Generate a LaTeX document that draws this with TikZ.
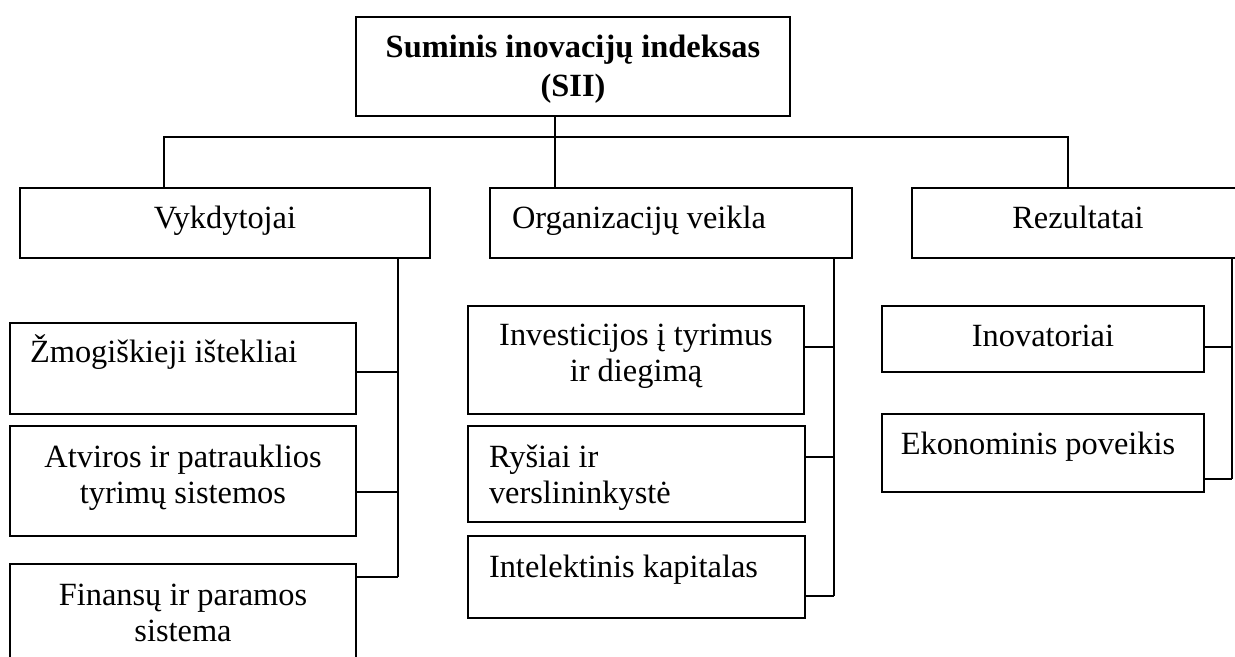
\documentclass[tikz,border=0pt]{standalone}
\usepackage{fontspec}
\setmainfont{Liberation Serif}
\newcommand{\fs}{\fontsize{16.2pt}{18pt}\selectfont}
\begin{document}
\begin{tikzpicture}[x=0.5pt,y=-0.5pt,
  box/.style={draw, line width=1pt, inner sep=0pt, outer sep=0pt, anchor=north west},
  lbl/.style={inner sep=0pt, outer sep=0pt, font=\fs},
  link/.style={line width=0.8pt}]
\useasboundingbox (0,0) rectangle (1235,657);
\clip (0,0) rectangle (1235,657);
% level 0
\node[box, minimum width=217pt, minimum height=49.5pt] (sii) at (356,17) {};
\node[lbl, anchor=base, align=center, font={\fontsize{16.2pt}{19.5pt}\selectfont\bfseries}] (siit) at (573,97) {Suminis inovacijų indeksas\\(SII)};
% level 1
\node[box, minimum width=205pt, minimum height=35pt] (vyk) at (20,188) {};
\node[box, minimum width=181pt, minimum height=35pt] (org) at (490,188) {};
\node[box, minimum width=166.5pt, minimum height=35pt] (rez) at (912,188) {};
\node[lbl, anchor=base] (vykt) at (225,229) {Vykdytojai};
\node[lbl, anchor=base west] (orgt) at (512,229) {Organizacijų veikla};
\node[lbl, anchor=base] (rezt) at (1078,229) {Rezultatai};
% level 2, left
\node[box, minimum width=173pt, minimum height=45.5pt] (zmo) at (10,323) {};
\node[box, minimum width=173pt, minimum height=55pt] (atv) at (10,426) {};
\node[box, minimum width=173pt, minimum height=53pt] (fin) at (10,564) {};
\node[lbl, anchor=base west] (zmot) at (30,363) {Žmogiškieji ištekliai};
\node[lbl, anchor=base, align=center] (atvt) at (183,503) {Atviros ir patrauklios\\tyrimų sistemos};
\node[lbl, anchor=base, align=center] (fint) at (183,641) {Finansų ir paramos\\sistema};
% level 2, middle
\node[box, minimum width=168pt, minimum height=54pt] (inv) at (468,306) {};
\node[box, minimum width=168.5pt, minimum height=48pt] (rys) at (468,426) {};
\node[box, minimum width=168.5pt, minimum height=41pt] (int) at (468,536) {};
\node[lbl, anchor=base, align=center] (invt) at (636,381) {Investicijos į tyrimus\\ir diegimą};
\node[lbl, anchor=base west, align=left] (ryst) at (489,503) {Ryšiai ir\\verslininkystė};
\node[lbl, anchor=base west] (intt) at (489,577) {Intelektinis kapitalas};
% level 2, right
\node[box, minimum width=161pt, minimum height=33pt] (ino) at (882,306) {};
\node[box, minimum width=161pt, minimum height=39pt] (eko) at (882,414) {};
\node[lbl, anchor=base] (inot) at (1043,346) {Inovatoriai};
\node[lbl, anchor=base] (ekot) at (1038,454) {Ekonominis poveikis};
% connectors, top
\coordinate (tl) at (164,137);
\coordinate (tm) at (555,137);
\coordinate (tr) at (1068,137);
\draw[link] (sii.south -| tm) -- (org.north -| tm);
\draw[link] (vyk.north -| tl) -- (tl) -- (tr) -- (rez.north -| tr);
% left bus
\coordinate (vb1) at (398,372);
\coordinate (vb2) at (398,492);
\coordinate (vb3) at (398,577);
\draw[link] (vyk.south -| vb1) -- (vb3);
\draw[link] (zmo.east |- vb1) -- (vb1);
\draw[link] (atv.east |- vb2) -- (vb2);
\draw[link] (fin.east |- vb3) -- (vb3);
% middle bus
\coordinate (ob1) at (834,347);
\coordinate (ob2) at (834,457);
\coordinate (ob3) at (834,596);
\draw[link] (org.south -| ob1) -- (ob3);
\draw[link] (inv.east |- ob1) -- (ob1);
\draw[link] (rys.east |- ob2) -- (ob2);
\draw[link] (int.east |- ob3) -- (ob3);
% right bus
\coordinate (rb1) at (1232,347);
\coordinate (rb2) at (1232,479);
\draw[link] (rez.south -| rb1) -- (rb2);
\draw[link] (ino.east |- rb1) -- (rb1);
\draw[link] (eko.east |- rb2) -- (rb2);
\end{tikzpicture}
\end{document}
